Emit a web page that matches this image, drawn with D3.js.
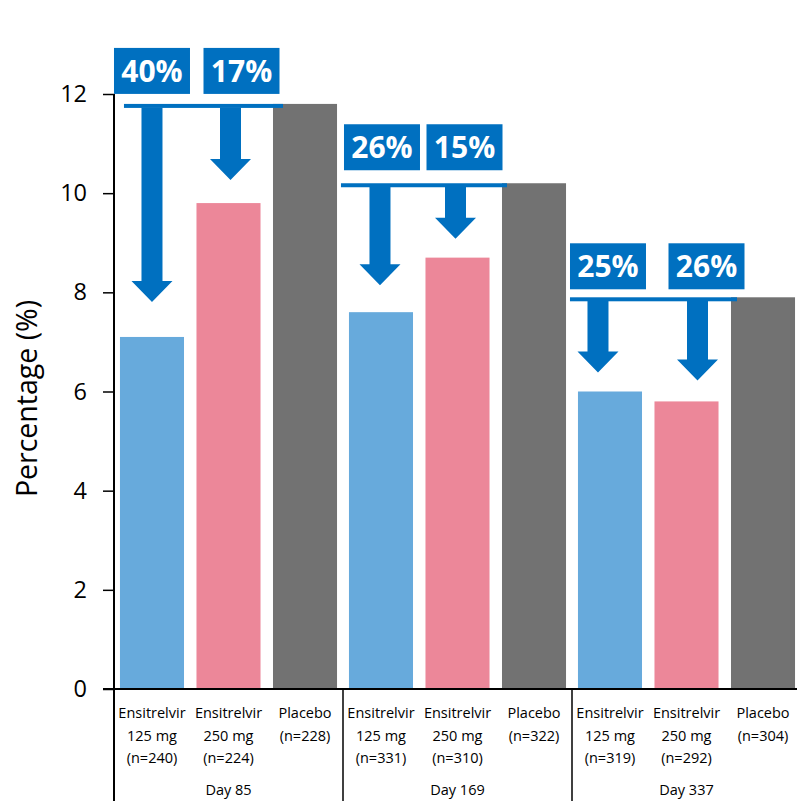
<!DOCTYPE html>
<html>
<head>
<meta charset="utf-8">
<script src="https://cdn.jsdelivr.net/npm/d3@7"></script>
<style>
  html, body { margin: 0; padding: 0; background: #fff; }
  svg { display: block; }
</style>
</head>
<body>
<svg id="chart" width="797" height="801"></svg>
<script>
// Visit days and treatment arms
const days = ["Day 85", "Day 169", "Day 337"];
const arms = ["e125", "e250", "placebo"];
const armLabels = [["Ensitrelvir", "125 mg"], ["Ensitrelvir", "250 mg"], ["Placebo"]];

// Sample sizes per day, per arm
const nDay85 = [240, 224, 228];
const nDay169 = [331, 310, 322];
const nDay337 = [319, 292, 304];

// Percentage of participants per day, per arm
const pctDay85 = [7.1, 9.8, 11.8];
const pctDay169 = [7.6, 8.7, 10.2];
const pctDay337 = [6.0, 5.8, 7.9];

// Relative reduction vs placebo (125 mg, 250 mg)
const reductionDay85 = ["40%", "17%"];
const reductionDay169 = ["26%", "15%"];
const reductionDay337 = ["25%", "26%"];

const yTicks = [0, 2, 4, 6, 8, 10, 12];

const nByDay = [nDay85, nDay169, nDay337];
const pctByDay = [pctDay85, pctDay169, pctDay337];
const redByDay = [reductionDay85, reductionDay169, reductionDay337];

const colors = { e125: "#67AADC", e250: "#EC8799", placebo: "#727272" };
const annoBlue = "#0070C0";

// Hand-placed annotation offsets (px) for each day
const annoLayout = [
  { lineStart: 10, lineOver: 10, arrowDx: [0, 2],  arrowGap: [35, 23], boxDx: [0, 13], boxGap: 10 },
  { lineStart: -2, lineOver: 5,  arrowDx: [-1, -2], arrowGap: [27, 19], boxDx: [1, 7],  boxGap: 13 },
  { lineStart: -2, lineOver: 6,  arrowDx: [-12, 11], arrowGap: [19, 21], boxDx: [-2, 20], boxGap: 8 }
];

const svg = d3.select("#chart");
const axisX = 114, baseY = 689, topY = 94, bottomY = 801;

const x0 = d3.scaleBand().domain(days).range([axisX, axisX + 687]);
const x1 = d3.scaleBand().domain(arms).range([0, x0.bandwidth()])
  .paddingInner(0.163).paddingOuter(0.078);
const y = d3.scaleLinear().domain([0, 12]).range([baseY, topY]);

const font = "'Open Sans', 'Noto Sans', sans-serif";

// Bars
days.forEach((day, di) => {
  const g = svg.append("g").attr("transform", `translate(${x0(day)},0)`);
  g.selectAll("rect")
    .data(arms.map((a, ai) => ({ arm: a, v: pctByDay[di][ai] })))
    .join("rect")
    .attr("x", d => x1(d.arm))
    .attr("y", d => y(d.v))
    .attr("width", x1.bandwidth())
    .attr("height", d => y(0) - y(d.v))
    .attr("fill", d => colors[d.arm]);
});

// Y axis
const yAxis = d3.axisLeft(y).tickValues(yTicks).tickSize(11).tickPadding(16);
const ya = svg.append("g").attr("transform", `translate(${axisX},0)`).call(yAxis);
ya.select(".domain").remove();
ya.selectAll(".tick line").attr("stroke", "#000").attr("stroke-width", 1.5);
ya.selectAll(".tick text")
  .attr("font-family", font).attr("font-size", 23.5).attr("fill", "#000");

svg.append("line")
  .attr("x1", axisX).attr("x2", axisX).attr("y1", topY).attr("y2", bottomY)
  .attr("stroke", "#000").attr("stroke-width", 2);
svg.append("line")
  .attr("x1", axisX - 11).attr("x2", 797).attr("y1", baseY).attr("y2", baseY)
  .attr("stroke", "#000").attr("stroke-width", 2);

svg.append("text")
  .attr("transform", `translate(37,${(topY + baseY) / 2 + 7}) rotate(-90)`)
  .attr("text-anchor", "middle")
  .attr("font-family", font).attr("font-size", 28.5).attr("fill", "#000")
  .text("Percentage (%)");

// Category labels and day group dividers
days.forEach((day, di) => {
  const gx = x0(day);
  if (di > 0) {
    svg.append("line")
      .attr("x1", gx).attr("x2", gx).attr("y1", baseY).attr("y2", bottomY)
      .attr("stroke", "#000").attr("stroke-width", 1.5);
  }
  arms.forEach((a, ai) => {
    const cx = gx + x1(a) + x1.bandwidth() / 2;
    const lines = armLabels[ai].concat([`(n=${nByDay[di][ai]})`]);
    const t = svg.append("text")
      .attr("text-anchor", "middle")
      .attr("font-family", font).attr("font-size", 14.5).attr("fill", "#000");
    lines.forEach((s, li) => {
      t.append("tspan").attr("x", cx).attr("y", 718 + li * 22.5).text(s);
    });
  });
  svg.append("text")
    .attr("x", gx + x0.bandwidth() / 2).attr("y", 795)
    .attr("text-anchor", "middle")
    .attr("font-family", font).attr("font-size", 14.5).attr("fill", "#000")
    .text(day);
});

// Reduction annotations: bracket line at placebo level, arrows and labels
const shaftW = 21, headW = 41, headH = 21, lineW = 4, boxW = 76, boxH = 46;
days.forEach((day, di) => {
  const L = annoLayout[di];
  const gx = x0(day);
  const placeboTop = y(pctByDay[di][2]);
  const lx1 = gx + x1("e125") + L.lineStart - 6;
  const lx2 = gx + x1("placebo") + L.lineOver;
  svg.append("rect")
    .attr("x", lx1).attr("y", placeboTop)
    .attr("width", lx2 - lx1).attr("height", lineW)
    .attr("fill", annoBlue);

  ["e125", "e250"].forEach((a, ai) => {
    const cx = gx + x1(a) + x1.bandwidth() / 2 + L.arrowDx[ai];
    const tip = y(pctByDay[di][ai]) - L.arrowGap[ai];
    const top = placeboTop + lineW - 0.5;
    const hs = tip - headH;
    const pts = [
      [cx - shaftW / 2, top], [cx + shaftW / 2, top], [cx + shaftW / 2, hs],
      [cx + headW / 2, hs], [cx, tip], [cx - headW / 2, hs], [cx - shaftW / 2, hs]
    ];
    svg.append("path").attr("d", d3.line()(pts) + "Z").attr("fill", annoBlue);

    const bx = gx + x1(a) + x1.bandwidth() / 2 + L.boxDx[ai];
    const by = placeboTop - L.boxGap - boxH;
    svg.append("rect")
      .attr("x", bx - boxW / 2).attr("y", by)
      .attr("width", boxW).attr("height", boxH)
      .attr("fill", annoBlue);
    svg.append("text")
      .attr("x", bx).attr("y", by + boxH / 2 + 11)
      .attr("text-anchor", "middle")
      .attr("font-family", font).attr("font-weight", 700)
      .attr("font-size", 30).attr("fill", "#fff")
      .text(redByDay[di][ai]);
  });
});
</script>
</body>
</html>
